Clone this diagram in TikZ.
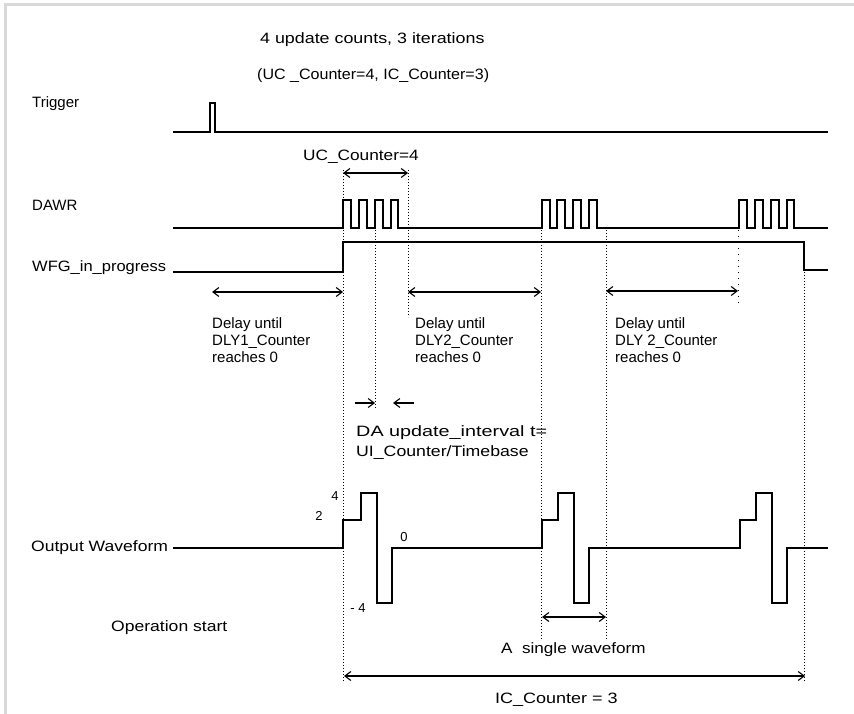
\documentclass[tikz,border=0pt]{standalone}
\usepackage{fontspec}
\setmainfont{Liberation Sans}
\usetikzlibrary{arrows.meta}
\newcommand{\wx}[2]{\scalebox{#1}[1]{#2}}
\begin{document}
\begin{tikzpicture}[x=1pt,y=-1pt,
  sig/.style={line width=1.3pt},
  vdot/.style={line width=1pt, dash pattern=on 1pt off 2pt},
  sdot/.style={line width=1pt, dash pattern=on 1pt off 5pt},
  dim/.style={line width=1.1pt, {Straight Barb[length=6pt,width=9pt]}-{Straight Barb[length=6pt,width=9pt]}},
  one/.style={line width=1.1pt, -{Straight Barb[length=6pt,width=9pt]}},
  lbl/.style={anchor=west, inner sep=0pt, font=\fontsize{15}{17}\selectfont},
  num/.style={inner sep=0pt, font=\fontsize{13}{15}\selectfont}]
\useasboundingbox (0,0) rectangle (854,714);
\fill[white] (0,0) rectangle (854,714);
\fill[gray!30] (4,3) rectangle (854,6);
\fill[gray!30] (4,3) rectangle (7,714);

% texts
\node[lbl] (title) at (260,40) {\wx{1.19}{4 update counts, 3 iterations}};
\node[lbl] (sub) at (257,76) {\wx{1.07}{(UC \_Counter=4, IC\_Counter=3)}};
\node[lbl] (ltrig) at (32,104) {Trigger};
\node[lbl] (ldawr) at (32,205) {DAWR};
\node[lbl] (lwfg) at (32,268) {\wx{1.1}{WFG\_in\_progress}};
\node[lbl] (lout) at (31,548) {\wx{1.17}{Output Waveform}};
\node[lbl] (lop) at (111,628) {\wx{1.17}{Operation start}};
\node[lbl] (luc) at (303,157) {\wx{1.15}{UC\_Counter=4}};
\node[lbl,align=left] (d1) at (212,340) {Delay until\\DLY1\_Counter\\reaches 0};
\node[lbl,align=left] (d2) at (415,340) {Delay until\\DLY2\_Counter\\reaches 0};
\node[lbl,align=left] (d3) at (615,340) {Delay until\\DLY 2\_Counter\\reaches 0};
\node[lbl,align=left,font=\fontsize{15}{20}\selectfont] (da) at (356,443)
  {\wx{1.32}{DA update\_interval t=}\\\wx{1.18}{UI\_Counter/Timebase}};
\node[lbl] (sw) at (501,650) {\wx{1.14}{A\ \ single waveform}};
\node[lbl] (ic) at (495,700) {\wx{1.2}{IC\_Counter = 3}};
\node[num] (n4) at (335,496) {4};
\node[num] (n2) at (319,516) {2};
\node[num] (n0) at (404,537) {0};
\node[num] (nm4) at (358,608) {- 4};

% Trigger
\draw[sig] (173,132) -- (210,132) -- (210,103) -- (215,103) -- (215,132) -- (828,132);

% DAWR
\draw[sig] (173,228) -- (343,228)
  -- (343,200) -- (351,200) -- (351,228) -- (359,228)
  -- (359,200) -- (367,200) -- (367,228) -- (375,228)
  -- (375,200) -- (383,200) -- (383,228) -- (391,228)
  -- (391,200) -- (398,200) -- (398,228) -- (542,228)
  -- (542,200) -- (550,200) -- (550,228) -- (557,228)
  -- (557,200) -- (565,200) -- (565,228) -- (573,228)
  -- (573,200) -- (581,200) -- (581,228) -- (589,228)
  -- (589,200) -- (597,200) -- (597,228) -- (739,228)
  -- (739,200) -- (747,200) -- (747,228) -- (755,228)
  -- (755,200) -- (763,200) -- (763,228) -- (771,228)
  -- (771,200) -- (779,200) -- (779,228) -- (787,228)
  -- (787,200) -- (794,200) -- (794,228) -- (828,228);

% WFG_in_progress
\draw[sig] (173,272) -- (343,272) -- (343,242) -- (804,242) -- (804,270) -- (828,270);

% Output waveform
\draw[sig] (173,548) -- (343,548) -- (343,520) -- (361,520) -- (361,493) -- (377,493)
  -- (377,603) -- (392,603) -- (392,548) -- (542,548)
  -- (542,520) -- (558,520) -- (558,493) -- (574,493) -- (574,603) -- (589,603) -- (589,548)
  -- (740,548) -- (740,520) -- (756,520) -- (756,493) -- (772,493) -- (772,603) -- (787,603)
  -- (787,548) -- (828,548);

% coordinates for dimension lines
\coordinate (ucA) at (343,173);
\coordinate (ucB) at (408,173);
\coordinate (a1L) at (212,292);
\coordinate (a1R) at (343,292);
\coordinate (a2L) at (408,292);
\coordinate (a2R) at (541,292);
\coordinate (a3L) at (606,291);
\coordinate (a3R) at (738,291);
\coordinate (uiA) at (355,403);
\coordinate (uiB) at (375,403);
\coordinate (uiC) at (414,403);
\coordinate (uiD) at (393,403);
\coordinate (swL) at (542,617);
\coordinate (swR) at (606,617);
\coordinate (icL) at (344,676);
\coordinate (icR) at (805,676);

% dotted guide lines
\draw[vdot] (343,170) -- (343,682);
\draw[vdot] (408,170) -- (408,317);
\draw[vdot] (375,203) -- (375,408);
\draw[vdot] (541,200) -- (541,640);
\draw[vdot] (606,230) -- (606,640);
\draw[sdot] (738,200) -- (738,306);
\draw[vdot] (804,242) -- (804,682);

% dimension arrows
\draw[dim] (ucA) -- (ucB);
\draw[dim] (a1L) -- (a1R);
\draw[dim] (a2L) -- (a2R);
\draw[dim] (a3L) -- (a3R);
\draw[one] (uiA) -- (uiB);
\draw[one] (uiC) -- (uiD);
\draw[dim] (swL) -- (swR);
\draw[dim] (icL) -- (icR);
\end{tikzpicture}
\end{document}
